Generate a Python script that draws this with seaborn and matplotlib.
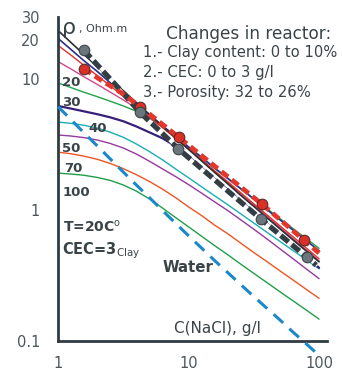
import matplotlib
matplotlib.use("Agg")
import matplotlib.pyplot as plt
import seaborn as sns
from matplotlib.ticker import FixedLocator, FixedFormatter, LogLocator, NullFormatter

# concentration grid (g/l), 0.1 decade steps, where the curves were read
conc = [1, 1.26, 1.58, 2, 2.51, 3.16, 3.98, 5.01, 6.31, 7.94, 10,
        12.6, 15.8, 20, 25.1, 31.6, 39.8, 50.1, 63.1, 79.4, 100]

# resistivity curves (Ohm.m)
rho_black = [23.7, 19.1, 15.5, 12.5, 10.1, 8.2, 6.65, 5.41, 4.40, 3.58, 2.92,
             2.38, 1.95, 1.59, 1.30, 1.07, 0.877, 0.721, 0.593, 0.489, 0.403]
rho_navy = [20.6, 16.9, 13.9, 11.5, 9.44, 7.80, 6.44, 5.33, 4.43, 3.67, 3.05,
            2.54, 2.11, 1.75, 1.46, 1.22, 1.01, 0.845, 0.705, 0.587, 0.49]
rho_red = [18.2, 15.3, 12.8, 10.7, 8.93, 7.45, 6.19, 5.15, 4.28, 3.55, 2.94,
           2.43, 2.0, 1.65, 1.36, 1.12, 0.923, 0.76, 0.627, 0.516, 0.425]
rho_pink = [13.7, 12.0, 10.47, 9.16, 8.0, 6.97, 6.04, 5.16, 4.34, 3.59, 2.96,
            2.43, 1.99, 1.63, 1.34, 1.10, 0.90, 0.74, 0.607, 0.499, 0.41]
rho_p20 = [9.40, 8.65, 7.98, 7.38, 6.81, 6.27, 5.71, 5.07, 4.32, 3.61, 3.01,
           2.51, 2.09, 1.75, 1.46, 1.22, 1.03, 0.863, 0.724, 0.608, 0.511]
rho_p30 = [6.27, 5.98, 5.70, 5.42, 5.13, 4.79, 4.37, 3.94, 3.55, 3.09, 2.57,
           2.11, 1.74, 1.43, 1.175, 0.966, 0.794, 0.653, 0.537, 0.442, 0.363]
rho_p40 = [4.72, 4.61, 4.46, 4.24, 3.95, 3.61, 3.21, 2.81, 2.43, 2.07, 1.77,
           1.51, 1.29, 1.10, 0.938, 0.798, 0.679, 0.578, 0.492, 0.419, 0.356]
rho_p50 = [3.76, 3.69, 3.59, 3.44, 3.24, 2.99, 2.69, 2.37, 2.07, 1.81, 1.57,
           1.35, 1.16, 0.993, 0.845, 0.716, 0.604, 0.507, 0.426, 0.357, 0.300]
rho_p70 = [2.78, 2.70, 2.59, 2.45, 2.28, 2.08, 1.87, 1.66, 1.45, 1.25, 1.06,
           0.91, 0.77, 0.66, 0.56, 0.475, 0.405, 0.344, 0.293, 0.249, 0.212]
rho_p100 = [1.92, 1.89, 1.85, 1.78, 1.69, 1.56, 1.40, 1.22, 1.04, 0.88, 0.746,
            0.632, 0.537, 0.456, 0.387, 0.329, 0.280, 0.238, 0.203, 0.173, 0.147]
rho_water = [6.2, 4.92, 3.91, 3.10, 2.47, 1.96, 1.56, 1.25, 0.995, 0.796, 0.638,
             0.513, 0.413, 0.333, 0.27, 0.219, 0.178, 0.145, 0.117, 0.0955, 0.0776]

# reactor measurements
red_c = [1.58, 4.25, 8.45, 36.6, 76.7]
red_rho = [12.1, 6.2, 3.6, 1.11, 0.589]
gray_c = [1.58, 4.25, 8.3, 36, 81]
gray_rho = [16.7, 5.59, 2.96, 0.853, 0.436]

# dashed lines through the measurements
red_fit_c = [1.58, 2, 3, 4.25, 6, 8.45, 15, 25, 36.6, 50, 76.7, 100]
red_fit_rho = [12.1, 10.3, 8.0, 6.2, 4.72, 3.6, 2.27, 1.51, 1.11, 0.85, 0.589, 0.47]
gray_fit_c = [1.58, 2, 3, 4.25, 6, 8.3, 15, 25, 36, 50, 81, 95]
gray_fit_rho = [16.7, 12.9, 8.3, 5.59, 4.05, 2.96, 1.79, 1.16, 0.853, 0.65, 0.436, 0.38]

curve_labels = ["20", "30", "40", "50", "70", "100"]

sns.set_style("white")
plt.rcParams['font.family'] = ['DejaVu Sans']
plt.rcParams['mathtext.default'] = 'regular'

W, H = 342, 372
fig = plt.figure(figsize=(W / 100, H / 100), dpi=100)
ax = fig.add_axes([58 / W, 1 - 341 / H, (327 - 58) / W, (341 - 17) / H])
ax.set_xscale('log')
ax.set_yscale('log')

axis_col = '#2f3c42'
thin = [
    (rho_p100, '#1f9e4a', 1.0),
    (rho_p70, '#ee5423', 1.0),
    (rho_p50, '#96389c', 1.0),
    (rho_p40, '#19aeb5', 1.0),
    (rho_p30, '#37207a', 1.6),
    (rho_p20, '#1ea24c', 1.0),
    (rho_pink, '#d2478a', 1.0),
    (rho_red, '#e0302a', 1.0),
    (rho_navy, '#2a2f8c', 1.2),
    (rho_black, '#2b2f33', 1.2),
]
for rho, col, lw in thin:
    sns.lineplot(x=conc, y=rho, ax=ax, color=col, lw=lw, zorder=2)

# water line, runs a little past the bottom axis
sns.lineplot(x=conc, y=rho_water, ax=ax, color='#1a88c9', lw=2.2, zorder=3)
water = ax.lines[-1]
water.set_dashes([4.2, 2.8])
water.set_clip_on(False)

# dashed lines through the measurements
sns.lineplot(x=gray_fit_c, y=gray_fit_rho, ax=ax, color='white', lw=2.0, zorder=4)
sns.lineplot(x=gray_fit_c, y=gray_fit_rho, ax=ax, color='#323d44', lw=3.8, zorder=5)
ax.lines[-1].set_dashes([1.9, 0.8])
sns.lineplot(x=red_fit_c, y=red_fit_rho, ax=ax, color='#e2372a', lw=3.4, zorder=5)
ax.lines[-1].set_dashes([1.8, 1.0])

sns.scatterplot(x=red_c, y=red_rho, ax=ax, s=58, color='#dc3027',
                edgecolor='#5a2a28', linewidth=0.8, zorder=6)
sns.scatterplot(x=gray_c, y=gray_rho, ax=ax, s=58, color='#6b757c',
                edgecolor='#3a4448', linewidth=0.8, zorder=6)

ax.set_xlim(1, 115)
ax.set_ylim(0.1, 30)

for s in ['top', 'right']:
    ax.spines[s].set_visible(False)
for s in ['left', 'bottom']:
    ax.spines[s].set_color(axis_col)
    ax.spines[s].set_linewidth(2.0)

ax.xaxis.set_major_locator(FixedLocator([1, 10, 100]))
ax.xaxis.set_major_formatter(FixedFormatter(['1', '10', '100']))
ax.xaxis.set_minor_locator(LogLocator(base=10, subs=range(2, 10)))
ax.xaxis.set_minor_formatter(NullFormatter())
ax.yaxis.set_major_locator(FixedLocator([0.1, 1, 10, 20, 30]))
ax.yaxis.set_major_formatter(FixedFormatter(['0.1', '1', '10', '20', '30']))
ax.yaxis.set_minor_locator(LogLocator(base=10, subs=range(2, 10)))
ax.yaxis.set_minor_formatter(NullFormatter())
ax.tick_params(which='major', direction='out', length=9, width=2.2, color=axis_col,
               labelsize=10.5, labelcolor='#4d575b')
ax.tick_params(axis='y', which='major', pad=4)
ax.tick_params(axis='x', which='major', pad=2)
ax.tick_params(axis='y', which='minor', direction='out', length=7, width=1.5, color=axis_col)
ax.tick_params(axis='x', which='minor', direction='out', length=6, width=1.5, color=axis_col)
ax.set_xlabel('')
ax.set_ylabel('')


def px(x, y):
    return x / W, 1 - y / H


lab_col = '#3a4448'
fig.text(*px(62, 28), 'ρ', fontsize=16, color=lab_col, va='center')
fig.text(*px(79, 29), ', Ohm.m', fontsize=8, color=lab_col, va='center')

fig.text(*px(166, 34), 'Changes in reactor:', fontsize=12.2, color=lab_col, va='center')
fig.text(*px(143, 53), '1.- Clay content: 0 to 10%', fontsize=10.6, color=lab_col, va='center')
fig.text(*px(143, 73), '2.- CEC: 0 to 3 g/l', fontsize=10.6, color=lab_col, va='center')
fig.text(*px(143, 93), '3.- Porosity: 32 to 26%', fontsize=10.6, color=lab_col, va='center')

label_pos = [(62, 82), (62, 103), (88, 129), (62, 148), (64, 168), (63, 192)]
for t, (lx, ly) in zip(curve_labels, label_pos):
    fig.text(*px(lx, ly), t, fontsize=9.5, fontweight='bold', color=lab_col, va='center')

fig.text(*px(63, 227), r'T=20C$^{\mathrm{o}}$', fontsize=10, fontweight='bold',
         color=lab_col, va='center')
fig.text(*px(62, 251), r'CEC=3$_{\mathrm{Clay}}$', fontsize=10.5, fontweight='bold',
         color=lab_col, va='center')
fig.text(*px(163, 267), 'Water', fontsize=10.8, fontweight='bold', color=lab_col, va='center')
fig.text(*px(174, 328), 'C(NaCl), g/l', fontsize=11, color=lab_col, va='center')

fig.savefig('out.png', dpi=100)
